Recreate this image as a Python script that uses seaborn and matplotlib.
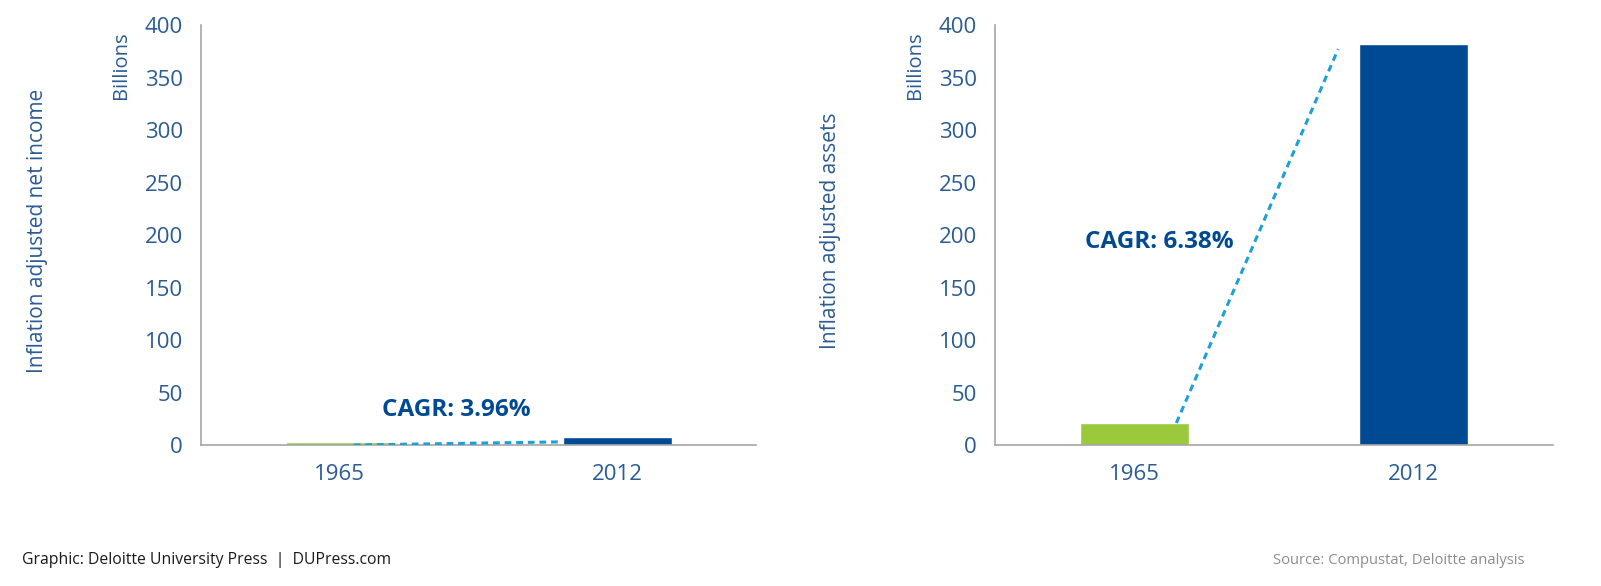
import pandas as pd
import matplotlib.pyplot as plt
import seaborn as sns

# values (billions, inflation adjusted)
years = ['1965', '2012']
net_income = [2.5, 8]
assets = [21, 382]
cagr_labels = ['CAGR: 3.96%', 'CAGR: 6.38%']
ylabels = ['Inflation adjusted net income', 'Inflation adjusted assets']

# dashed trend line ends (category position, value)
income_line_x = [0.05, 0.80]
income_line_y = [0.0, 3.0]
assets_line_x = [0.15, 0.73]
assets_line_y = [21, 377]

GREEN = '#9aca3c'
BLUE = '#004a93'
LINE = '#1ba0d8'
TEXT = '#2a5b93'
GRAY = '#a6a6a6'


def draw_panel(ax, values, line_x, line_y, ylabel, label, label_pos):
    df = pd.DataFrame({'year': years, 'value': values})
    sns.barplot(data=df, x='year', y='value', hue='year',
                palette=[GREEN, BLUE], width=0.39, legend=False,
                saturation=1, ax=ax)
    ax.plot(line_x, line_y, color=LINE, lw=2.2, ls=(0, (2.2, 1.6)), zorder=3)
    ax.text(label_pos[0], label_pos[1], label, color=BLUE, fontsize=17.5,
            fontweight='bold', ha='center', va='center')

    xmin, xmax = -0.5, 1.5
    ax.set_xlim(xmin, xmax)
    ax.set_ylim(0, 400)
    ax.set_yticks(range(0, 401, 50))
    ax.set_xticks([xmin, 0, 0.5, 1, xmax])
    ax.set_xticklabels(['', '1965', '', '2012', ''])
    ax.tick_params(axis='both', colors=GRAY, labelcolor=TEXT, labelsize=16,
                   length=9, width=1.2)
    ax.tick_params(axis='x', pad=5)
    ax.tick_params(axis='y', pad=4)
    for side in ['top', 'right']:
        ax.spines[side].set_visible(False)
    for side in ['left', 'bottom']:
        ax.spines[side].set_color(GRAY)
        ax.spines[side].set_linewidth(1.2)
    ax.set_xlabel('')
    ax.set_ylabel('')
    ax.text(-0.295, 0.51, ylabel, transform=ax.transAxes, rotation=90,
            ha='center', va='center', color=TEXT, fontsize=15)
    ax.text(-0.143, 0.905, 'Billions', transform=ax.transAxes, rotation=90,
            ha='center', va='center', color=TEXT, fontsize=14.5)


def main():
    sns.set_style('white')
    plt.rcParams['font.family'] = ['Open Sans', 'DejaVu Sans']

    fig = plt.figure(figsize=(16.01, 5.86), dpi=100)
    ax1 = fig.add_axes([0.1255, 0.2406, 0.347, 0.7167])
    ax2 = fig.add_axes([0.6215, 0.2406, 0.3485, 0.7167])

    draw_panel(ax1, net_income, income_line_x, income_line_y,
               ylabels[0], cagr_labels[0], (0.42, 33))
    draw_panel(ax2, assets, assets_line_x, assets_line_y,
               ylabels[1], cagr_labels[1], (0.09, 193))

    fig.text(0.014, 0.044, 'Graphic: Deloitte University Press  |  DUPress.com',
             fontsize=11.3, color='#1a1a1a', ha='left', va='center')
    fig.text(0.952, 0.044, 'Source: Compustat, Deloitte analysis',
             fontsize=10.6, color='#8c8c8c', ha='right', va='center')

    fig.savefig('out.png', dpi=100)


if __name__ == '__main__':
    main()
